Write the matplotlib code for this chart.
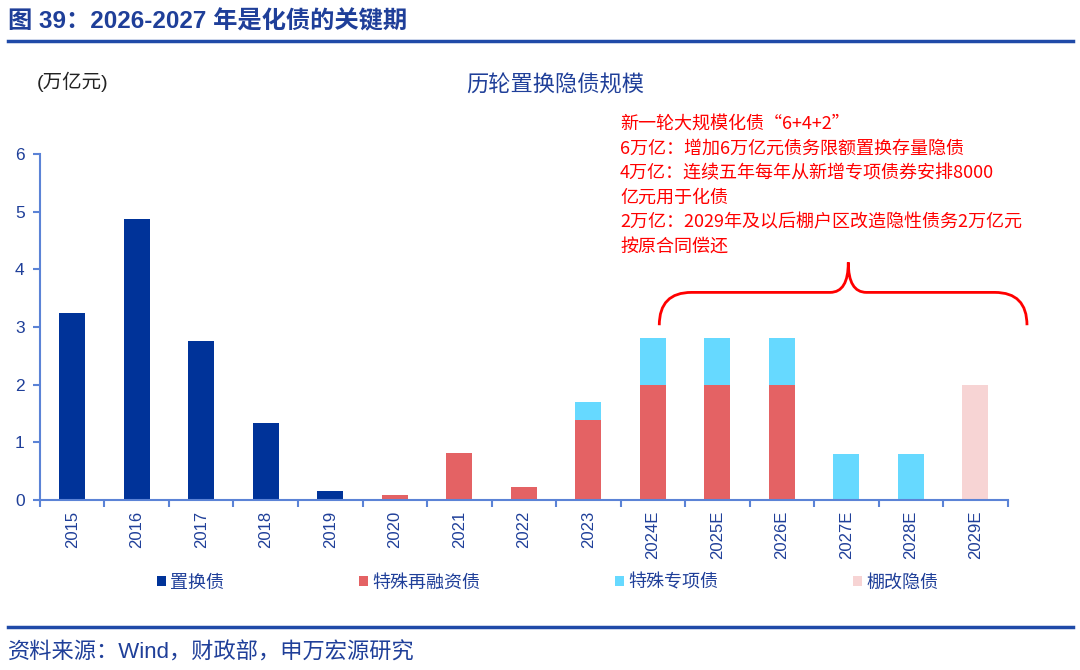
import matplotlib
matplotlib.use("Agg")
import matplotlib.pyplot as plt
import matplotlib.patches as mpatches
from matplotlib.path import Path
import numpy as np

plt.rcParams['font.family'] = ['Liberation Sans', 'Noto Sans CJK SC', 'DejaVu Sans']

# 数据
years = ["2015", "2016", "2017", "2018", "2019", "2020", "2021", "2022", "2023",
         "2024E", "2025E", "2026E", "2027E", "2028E", "2029E"]
zhihuan = [3.25, 4.87, 2.76, 1.34, 0.15, 0, 0, 0, 0, 0, 0, 0, 0, 0, 0]
zaironzi = [0, 0, 0, 0, 0, 0.08, 0.81, 0.22, 1.38, 2.0, 2.0, 2.0, 0, 0, 0]
zhuanxiang = [0, 0, 0, 0, 0, 0, 0, 0, 0.32, 0.8, 0.8, 0.8, 0.8, 0.8, 0]
penggai = [0, 0, 0, 0, 0, 0, 0, 0, 0, 0, 0, 0, 0, 0, 2.0]

note_lines = [
    "新一轮大规模化债“6+4+2”",
    "6万亿：增加6万亿元债务限额置换存量隐债",
    "4万亿：连续五年每年从新增专项债券安排8000",
    "亿元用于化债",
    "2万亿：2029年及以后棚户区改造隐性债务2万亿元",
    "按原合同偿还",
]

navy = "#003399"
text_blue = "#1F3F99"
axis_blue = "#5B83D6"
c_red = "#E46264"
c_cyan = "#66D9FF"
c_pink = "#F7D4D4"

fig = plt.figure(figsize=(10.8, 6.7), dpi=100)
ax = fig.add_axes([0.037, 0.254, 0.896, 0.516])

x = np.arange(len(years))
w = 0.4
zhihuan = np.array(zhihuan)
zaironzi = np.array(zaironzi)
zhuanxiang = np.array(zhuanxiang)
penggai = np.array(penggai)

ax.bar(x, zhihuan, w, color=navy, label="置换债")
ax.bar(x, zaironzi, w, bottom=zhihuan, color=c_red, label="特殊再融资债")
ax.bar(x, zhuanxiang, w, bottom=zhihuan + zaironzi, color=c_cyan, label="特殊专项债")
ax.bar(x, penggai, w, bottom=zhihuan + zaironzi + zhuanxiang, color=c_pink, label="棚改隐债")

ax.set_xlim(-0.5, len(years) - 0.5)
ax.set_ylim(0, 6)
ax.set_yticks(range(0, 7))
ax.set_xticks(x)
ax.set_xticklabels(years, rotation=90, fontsize=12, color=text_blue)
ax.set_xticks(np.arange(-0.5, len(years)), minor=True)
ax.tick_params(axis="x", which="major", length=0, pad=8)
ax.tick_params(axis="x", which="minor", length=5, width=1.5, color=axis_blue, direction="out")
ax.tick_params(axis="y", length=5, width=1.5, color=axis_blue, labelsize=12.5, labelcolor=text_blue, pad=6)
for s in ["top", "right"]:
    ax.spines[s].set_visible(False)
for s in ["left", "bottom"]:
    ax.spines[s].set_color(axis_blue)
    ax.spines[s].set_linewidth(1.5)

# 大括号
verts = [(9.1, 3.03), (9.1, 3.6), (9.6, 3.6),
         (11.75, 3.6),
         (12.03, 3.6), (12.03, 4.12),
         (12.03, 3.6), (12.31, 3.6),
         (14.3, 3.6),
         (14.8, 3.6), (14.8, 3.03)]
codes = [Path.MOVETO, Path.CURVE3, Path.CURVE3, Path.LINETO,
         Path.CURVE3, Path.CURVE3, Path.CURVE3, Path.CURVE3,
         Path.LINETO, Path.CURVE3, Path.CURVE3]
ax.add_patch(mpatches.PathPatch(Path(verts, codes), fill=False, edgecolor="#FF0000",
                                linewidth=2, clip_on=False))

for i, line in enumerate(note_lines):
    fig.text(620 / 1080, 1 - (124 + i * 24.5) / 670, line, fontsize=13, color="#FF0000",
             va="center", ha="left", family=['Noto Sans CJK SC', 'DejaVu Sans'])

# 标题与文字
fig.text(8 / 1080, 1 - 22 / 670, "图 39：2026-2027 年是化债的关键期", fontsize=17.5, fontweight="bold",
         color=text_blue, va="center", ha="left")
fig.add_artist(plt.Line2D([8 / 1080, 1073 / 1080], [1 - 41 / 670, 1 - 41 / 670], color="#1F4AA8", linewidth=2.5))
fig.add_artist(plt.Line2D([8 / 1080, 1073 / 1080], [1 - 627 / 670, 1 - 627 / 670], color="#1F4AA8", linewidth=2.5))
fig.text(555 / 1080, 1 - 86 / 670, "历轮置换隐债规模", fontsize=16, color=text_blue, va="center", ha="center")
fig.text(37 / 1080, 1 - 82 / 670, "(万亿元)", fontsize=14, color="#222222", va="center", ha="left")
fig.text(8 / 1080, 1 - 653 / 670, "资料来源：Wind，财政部，申万宏源研究", fontsize=16, color=text_blue,
         va="center", ha="left")

fig.legend(loc="center", bbox_to_anchor=(0.507, 1 - 583 / 670), ncol=4, frameon=False,
           fontsize=13, labelcolor=text_blue, handlelength=0.5, handleheight=0.5,
           handletextpad=0.2, columnspacing=7.5)

plt.savefig("out.png", dpi=100)
